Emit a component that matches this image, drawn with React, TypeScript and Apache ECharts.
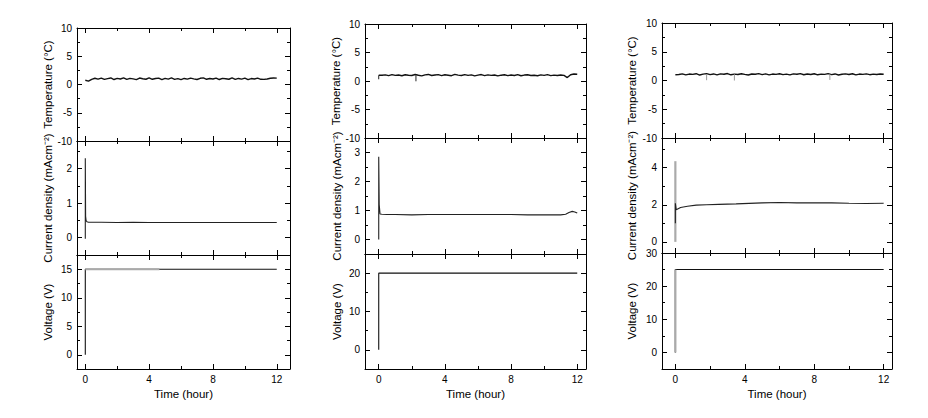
import React, { useEffect, useRef } from 'react';
import * as echarts from 'echarts';

// ---------- tick labels ----------
const xMajorTicks = [0, 4, 8, 12];
const xMinorTicks = [2, 6, 10];
const tempMajorTicks = [-10, -5, 0, 5, 10];
const tempMinorTicks = [-7.5, -2.5, 2.5, 7.5];
const cur1MajorTicks = [0, 1, 2];
const cur1MinorTicks = [0.5, 1.5, 2.5];
const volt1MajorTicks = [0, 5, 10, 15];
const volt1MinorTicks = [2.5, 7.5, 12.5];
const cur2MajorTicks = [0, 1, 2, 3];
const cur2MinorTicks = [0.5, 1.5, 2.5];
const volt2MajorTicks = [0, 10, 20];
const volt2MinorTicks = [5, 15];
const cur3MajorTicks = [0, 2, 4];
const cur3MinorTicks = [1, 3, 5];
const volt3MajorTicks = [0, 10, 20, 30];
const volt3MinorTicks = [5, 15, 25];

// ---------- temperature (hour, °C) ----------
const tempTime = [
  0, 0.2, 0.4, 0.6, 0.8, 1, 1.2, 1.4, 1.6, 1.8,
  2, 2.2, 2.4, 2.6, 2.8, 3, 3.2, 3.4, 3.6, 3.8,
  4, 4.2, 4.4, 4.6, 4.8, 5, 5.2, 5.4, 5.6, 5.8,
  6, 6.2, 6.4, 6.6, 6.8, 7, 7.2, 7.4, 7.6, 7.8,
  8, 8.2, 8.4, 8.6, 8.8, 9, 9.2, 9.4, 9.6, 9.8,
  10, 10.2, 10.4, 10.6, 10.8, 11, 11.2, 11.4, 11.6, 11.8,
  12,
];
const temp1 = [
  0.75, 0.60, 0.92, 1.10, 0.95, 1.14, 0.90, 1.05, 1.16, 0.88,
  1.08, 0.97, 1.18, 0.91, 1.09, 1.00, 0.87, 1.15, 1.02, 0.93,
  1.17, 0.92, 1.06, 1.12, 0.86, 1.09, 0.96, 1.16, 0.90, 1.04,
  0.85, 1.07, 0.94, 1.13, 1.00, 0.89, 1.10, 1.18, 0.92, 1.06,
  0.97, 1.14, 0.88, 1.09, 1.02, 0.93, 1.16, 0.90, 1.07, 0.96,
  1.12, 0.87, 1.05, 0.98, 1.13, 0.92, 0.90, 0.97, 1.10, 1.15,
  1.12,
];
const temp2 = [
  1.00, 1.00, 1.08, 0.95, 1.12, 0.98, 1.06, 0.92, 1.10, 1.02,
  0.96, 1.14, 1.00, 0.90, 1.08, 1.15, 0.97, 1.05, 1.12, 0.94,
  1.09, 1.01, 0.93, 1.16, 1.04, 0.96, 1.11, 0.99, 1.07, 0.91,
  1.03, 1.13, 0.95, 1.08, 0.98, 1.06, 0.89, 1.02, 1.10, 0.94,
  1.05, 0.97, 1.12, 0.92, 1.04, 1.09, 0.96, 1.01, 0.93, 1.07,
  0.99, 1.11, 0.95, 1.03, 0.97, 1.05, 0.98, 0.60, 1.10, 1.22,
  1.18,
];
const temp3 = [
  1.00, 1.05, 1.15, 0.98, 1.12, 1.06, 1.18, 0.95, 1.10, 1.20,
  1.02, 1.14, 0.97, 1.16, 1.08, 1.21, 0.99, 1.11, 1.04, 1.17,
  1.06, 0.96, 1.13, 1.09, 1.19, 1.01, 1.15, 0.98, 1.12, 1.07,
  1.18, 1.03, 1.10, 0.97, 1.16, 1.08, 1.20, 1.00, 1.13, 1.05,
  1.17, 0.99, 1.11, 1.06, 1.19, 1.02, 1.14, 0.96, 1.09, 1.15,
  1.04, 1.18, 0.98, 1.12, 1.07, 1.16, 1.01, 1.10, 1.05, 1.14,
  1.08,
];
// short downward glitches in the temperature records
const temp2DipTime = [0, 2.25];
const temp2DipHigh = [1.0, 1.0];
const temp2DipLow = [0.3, -0.05];
const temp3DipTime = [1.8, 3.4, 8.9];
const temp3DipHigh = [1.1, 1.1, 1.1];
const temp3DipLow = [0.05, 0.0, 0.1];

// ---------- current density (hour, mA cm^-2) ----------
const cur1Time = [0, 0, 0.02, 0.05, 0.1, 0.2, 0.5, 1, 2, 3, 4, 5, 6, 7, 8, 9, 10, 11, 12];
const cur1Val = [-0.03, 2.3, 0.62, 0.5, 0.46, 0.45, 0.45, 0.45, 0.44, 0.45, 0.44, 0.44, 0.44, 0.44, 0.44, 0.44, 0.44, 0.44, 0.44];
const cur2Time = [0, 0, 0.03, 0.08, 0.2, 0.5, 1, 2, 3, 4, 5, 6, 7, 8, 9, 10, 10.5, 11, 11.3, 11.5, 11.7, 11.85, 12];
const cur2Val = [0, 2.85, 1.2, 0.88, 0.87, 0.86, 0.86, 0.85, 0.86, 0.86, 0.86, 0.86, 0.86, 0.86, 0.85, 0.85, 0.85, 0.85, 0.87, 0.93, 0.97, 0.95, 0.91];
const cur3SpikeTime = [0, 0];
const cur3SpikeVal = [0, 4.35];
const cur3Time = [0, 0, 0.05, 0.3, 0.7, 1.2, 1.8, 2.5, 3.5, 5, 6, 7, 8, 9, 10, 11, 12];
const cur3Val = [1.0, 2.08, 1.73, 1.85, 1.92, 1.98, 2.0, 2.02, 2.05, 2.1, 2.12, 2.1, 2.1, 2.1, 2.08, 2.07, 2.08];

// ---------- voltage (hour, V) ----------
const volt1Time = [0, 0, 4.64, 12];
const volt1Val = [0, 15, 15, 15];
const volt1GrayTime = [0, 4.64];
const volt1GrayVal = [15, 15];
const volt2Time = [0, 0, 12];
const volt2Val = [0, 20, 20];
const volt3Time = [0, 0, 12];
const volt3Val = [0, 25, 25];
const volt3GrayTime = [0, 0];
const volt3GrayVal = [0, 25];

// ---------- titles ----------
const tempTitle = 'Temperature (°C)';
const curTitle = 'Current density (mAcm⁻²)';
const voltTitle = 'Voltage (V)';
const timeTitle = 'Time (hour)';

const FONT = '"Liberation Sans", Arial, sans-serif';

const zip = (t: number[], v: number[]) => t.map((x, i) => [x, v[i]]);

type Row = { top: number; height: number; min: number; max: number; major: number[]; minor: number[]; title: string };
type Col = { left: number; width: number; xMin: number; xMax: number; gap: number; rows: Row[] };

const columns: Col[] = [
  {
    left: 77, width: 213, xMin: -0.52, xMax: 12.83, gap: 23,
    rows: [
      { top: 28, height: 113, min: -10, max: 10, major: tempMajorTicks, minor: tempMinorTicks, title: tempTitle },
      { top: 141, height: 114, min: -0.5, max: 2.8, major: cur1MajorTicks, minor: cur1MinorTicks, title: curTitle },
      { top: 255, height: 114, min: -2.5, max: 17.5, major: volt1MajorTicks, minor: volt1MinorTicks, title: voltTitle },
    ],
  },
  {
    left: 365, width: 221, xMin: -0.83, xMax: 12.53, gap: 22,
    rows: [
      { top: 24, height: 114, min: -10, max: 10, major: tempMajorTicks, minor: tempMinorTicks, title: tempTitle },
      { top: 138, height: 116, min: -0.5, max: 3.5, major: cur2MajorTicks, minor: cur2MinorTicks, title: curTitle },
      { top: 254, height: 115, min: -5, max: 25, major: volt2MajorTicks, minor: volt2MinorTicks, title: voltTitle },
    ],
  },
  {
    left: 662, width: 230, xMin: -0.77, xMax: 12.48, gap: 24,
    rows: [
      { top: 23, height: 115, min: -10, max: 10, major: tempMajorTicks, minor: tempMinorTicks, title: tempTitle },
      { top: 138, height: 115, min: -0.6, max: 5.6, major: cur3MajorTicks, minor: cur3MinorTicks, title: curTitle },
      { top: 253, height: 116, min: -5, max: 30, major: volt3MajorTicks, minor: volt3MinorTicks, title: voltTitle },
    ],
  },
];

// series per [column][row]
const seriesSpec: { data: number[][]; color: string; width: number }[][][] = [
  [
    [{ data: zip(tempTime, temp1), color: '#111', width: 1.4 }],
    [{ data: zip(cur1Time, cur1Val), color: '#222', width: 1.1 }],
    [
      { data: zip(volt1Time, volt1Val), color: '#111', width: 1.1 },
      { data: zip(volt1GrayTime, volt1GrayVal), color: '#aaa', width: 2.2 },
    ],
  ],
  [
    [
      { data: zip(tempTime, temp2), color: '#111', width: 1.4 },
      ...temp2DipTime.map((t, i) => ({ data: [[t, temp2DipHigh[i]], [t, temp2DipLow[i]]], color: '#222', width: 1 })),
    ],
    [{ data: zip(cur2Time, cur2Val), color: '#222', width: 1.1 }],
    [{ data: zip(volt2Time, volt2Val), color: '#111', width: 1.1 }],
  ],
  [
    [
      { data: zip(tempTime, temp3), color: '#111', width: 1.4 },
      ...temp3DipTime.map((t, i) => ({ data: [[t, temp3DipHigh[i]], [t, temp3DipLow[i]]], color: '#999', width: 1 })),
    ],
    [
      { data: zip(cur3SpikeTime, cur3SpikeVal), color: '#aaa', width: 2.2 },
      { data: zip(cur3Time, cur3Val), color: '#222', width: 1.1 },
    ],
    [
      { data: zip(volt3Time, volt3Val), color: '#111', width: 1.1 },
      { data: zip(volt3GrayTime, volt3GrayVal), color: '#aaa', width: 2.2 },
    ],
  ],
];

function buildOption() {
  const grid: any[] = [];
  const xAxis: any[] = [];
  const yAxis: any[] = [];
  const series: any[] = [];

  const tick = (values: number[], length: number) => ({
    show: true, inside: true, length, customValues: values,
    lineStyle: { color: '#000', width: 1 },
  });
  const line = (show: boolean) => ({ show, onZero: false, lineStyle: { color: '#000', width: 1 } });

  columns.forEach((col, c) => {
    col.rows.forEach((row, r) => {
      const gi = grid.length;
      grid.push({ left: col.left, top: row.top, width: col.width, height: row.height, show: false });
      const isBottom = r === 2;
      const xBase = xAxis.length;
      const xCommon = {
        type: 'value', gridIndex: gi, min: col.xMin, max: col.xMax,
        splitLine: { show: false },
      };
      xAxis.push({
        ...xCommon, position: 'bottom', axisLine: line(true),
        axisTick: tick(xMajorTicks, 5),
        axisLabel: isBottom
          ? { show: true, customValues: xMajorTicks, margin: 5, color: '#000', fontFamily: FONT, fontSize: 10 }
          : { show: false },
        name: isBottom ? timeTitle : '',
        nameLocation: 'middle', nameGap: 19,
        nameTextStyle: { color: '#000', fontFamily: FONT, fontSize: 11.5 },
      });
      xAxis.push({ ...xCommon, position: 'bottom', axisLine: line(false), axisTick: tick(xMinorTicks, 3), axisLabel: { show: false } });
      xAxis.push({ ...xCommon, position: 'top', axisLine: line(true), axisTick: tick(xMajorTicks, 5), axisLabel: { show: false } });
      xAxis.push({ ...xCommon, position: 'top', axisLine: line(false), axisTick: tick(xMinorTicks, 3), axisLabel: { show: false } });

      const yBase = yAxis.length;
      const yCommon = {
        type: 'value', gridIndex: gi, min: row.min, max: row.max,
        splitLine: { show: false },
      };
      yAxis.push({
        ...yCommon, position: 'left', axisLine: line(true),
        axisTick: tick(row.major, 5),
        axisLabel: { show: true, customValues: row.major, margin: 5, color: '#000', fontFamily: FONT, fontSize: 10 },
        name: row.title, nameLocation: 'middle', nameRotate: 90, nameGap: col.gap,
        nameTextStyle: { color: '#000', fontFamily: FONT, fontSize: 11.5 },
      });
      yAxis.push({ ...yCommon, position: 'left', axisLine: line(false), axisTick: tick(row.minor, 3), axisLabel: { show: false } });
      yAxis.push({ ...yCommon, position: 'right', axisLine: line(true), axisTick: tick(row.major, 5), axisLabel: { show: false } });
      yAxis.push({ ...yCommon, position: 'right', axisLine: line(false), axisTick: tick(row.minor, 3), axisLabel: { show: false } });

      seriesSpec[c][r].forEach((s) => {
        series.push({
          type: 'line', xAxisIndex: xBase, yAxisIndex: yBase,
          data: s.data, showSymbol: false, symbol: 'none', silent: true,
          lineStyle: { color: s.color, width: s.width },
          clip: true,
        });
      });
    });
  });

  return {
    animation: false,
    backgroundColor: '#fff',
    textStyle: { fontFamily: FONT },
    grid, xAxis, yAxis, series,
  };
}

export default function App() {
  const ref = useRef<HTMLDivElement>(null);
  useEffect(() => {
    const chart = echarts.init(ref.current as HTMLDivElement, null, { renderer: 'svg' });
    chart.setOption(buildOption() as any);
    return () => chart.dispose();
  }, []);
  return (
    <div
      ref={ref}
      style={{ position: 'fixed', left: 0, top: 0, width: 928, height: 418, background: '#fff' }}
    />
  );
}
